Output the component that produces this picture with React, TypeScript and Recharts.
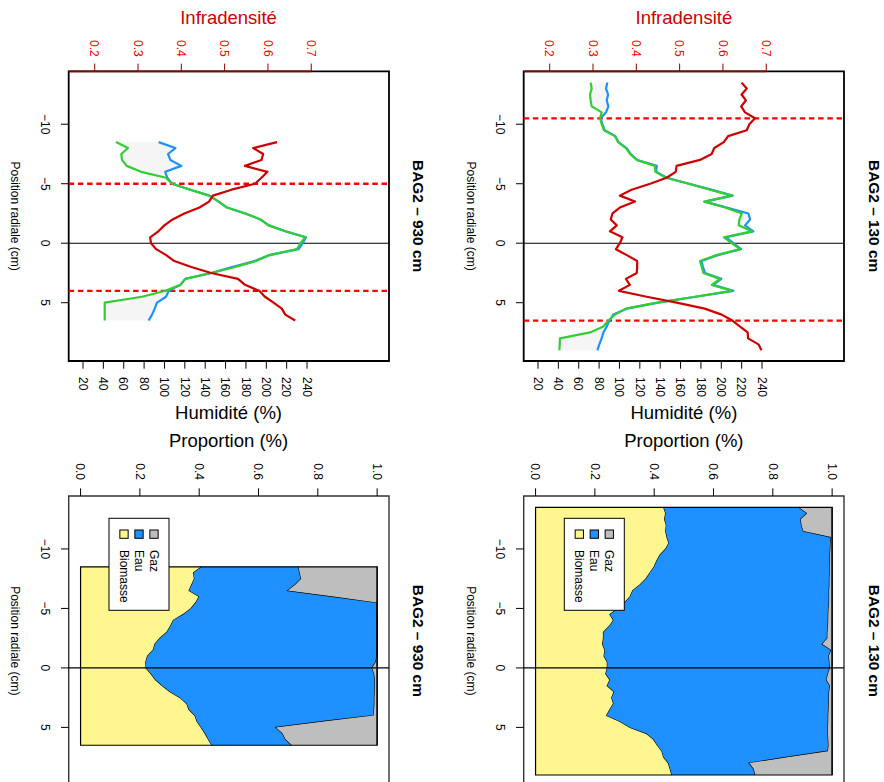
import React from "react";
import {
  ComposedChart,
  Line,
  Area,
  XAxis,
  YAxis,
  ReferenceLine,
  ReferenceArea,
} from "recharts";

// radial positions (cm)
const POS_130 = [
  -13.5, -13, -12.5, -12, -11.5, -11, -10.5, -10, -9.5, -9, -8.5, -8, -7.5, -7, -6.5, -6,
  -5.5, -5, -4.5, -4, -3.5, -3, -2.5, -2, -1.5, -1, -0.5, 0, 0.5, 1, 1.5, 2, 2.5, 3, 3.5, 4,
  4.5, 5, 5.5, 6, 6.5, 7, 7.5, 8, 8.5, 9,
];
const POS_930 = [
  -8.5, -8, -7.5, -7, -6.5, -6, -5.5, -5, -4.5, -4, -3.5, -3, -2.5, -2, -1.5, -1, -0.5, 0,
  0.5, 1, 1.5, 2, 2.5, 3, 3.5, 4, 4.5, 5, 5.5, 6, 6.5,
];

// humidity (%) - blue / green curves
const HUM_BLUE_130 = [
  88.1, 86.8, 88.8, 87.5, 89.1, 86.8, 81.6, 83.2, 85.5, 96.0, 99.0, 107.0, 111.0, 117.5, 136.6,
  136.0, 146.5, 168.5, 190.0, 211.2, 184.0, 205.3, 226.6, 228.3, 223.3, 231.5, 204.7, 211.8,
  219.5, 196.5, 180.5, 182.0, 184.0, 200.0, 192.0, 211.8, 175.0, 138.0, 107.0, 94.0, 90.1,
  87.5, 84.2, 82.5, 80.2, 78.3,
];
const HUM_GREEN_130 = [
  71.7, 72.7, 71.1, 71.7, 72.7, 82.5, 80.9, 82.5, 84.8, 95.6, 98.6, 106.4, 110.4, 116.9, 134.9,
  135.3, 145.7, 167.7, 189.0, 210.2, 183.1, 203.7, 220.1, 217.8, 217.1, 229.9, 202.7, 210.2,
  218.4, 195.5, 179.1, 180.8, 182.4, 198.8, 190.6, 210.2, 174.2, 137.2, 106.4, 95.6, 89.1,
  84.2, 71.1, 41.6, 41.3, 41.0,
];
const HUM_BLUE_930 = [
  94.3, 110.7, 103.5, 105.8, 116.6, 100.8, 102.8, 107.4, 125.4, 144.1, 153.2, 161.4, 179.4,
  194.2, 202.4, 218.8, 239.0, 235.7, 231.8, 203.0, 188.6, 166.3, 146.0, 120.5, 115.6, 104.2,
  101.5, 92.7, 90.4, 87.8, 84.5,
];
const HUM_GREEN_930 = [
  52.4, 64.2, 57.6, 58.3, 62.9, 77.0, 101.5, 107.4, 125.4, 144.1, 153.2, 161.4, 179.4, 194.2,
  202.4, 218.8, 238.4, 233.5, 230.2, 203.0, 189.9, 169.6, 146.0, 120.5, 115.6, 100.9, 77.9,
  41.3, 41.3, 41.3, 41.3,
];

// infradensity
const INFRA_130 = [
  0.643, 0.655, 0.643, 0.653, 0.642, 0.651, 0.674, 0.661, 0.655, 0.612, 0.602, 0.58, 0.574,
  0.547, 0.493, 0.491, 0.47, 0.432, 0.389, 0.362, 0.397, 0.362, 0.345, 0.341, 0.355, 0.339,
  0.368, 0.362, 0.353, 0.378, 0.402, 0.402, 0.401, 0.376, 0.385, 0.36, 0.424, 0.493, 0.558,
  0.597, 0.622, 0.639, 0.657, 0.658, 0.682, 0.689,
];
const INFRA_930 = [
  0.621, 0.566, 0.589, 0.585, 0.547, 0.599, 0.585, 0.57, 0.516, 0.473, 0.464, 0.442, 0.407,
  0.38, 0.361, 0.347, 0.328, 0.33, 0.342, 0.365, 0.384, 0.423, 0.469, 0.531, 0.547, 0.58,
  0.593, 0.613, 0.632, 0.64, 0.663,
];

// proportions (biomasse / eau / gaz)
const BIO_130 = [
  0.432, 0.439, 0.435, 0.441, 0.439, 0.443, 0.45, 0.439, 0.42, 0.409, 0.4, 0.386, 0.373, 0.353,
  0.328, 0.319, 0.302, 0.279, 0.251, 0.263, 0.249, 0.229, 0.229, 0.226, 0.234, 0.231, 0.242,
  0.242, 0.237, 0.251, 0.242, 0.265, 0.257, 0.263, 0.251, 0.24, 0.285, 0.319, 0.373, 0.398,
  0.411, 0.426, 0.432, 0.448, 0.454, 0.46,
];
const EAU_130 = [
  0.456, 0.477, 0.459, 0.456, 0.464, 0.554, 0.545, 0.555, 0.573, 0.584, 0.592, 0.606, 0.618,
  0.638, 0.662, 0.671, 0.688, 0.709, 0.736, 0.724, 0.737, 0.755, 0.755, 0.741, 0.763, 0.758,
  0.749, 0.751, 0.749, 0.73, 0.751, 0.725, 0.732, 0.726, 0.737, 0.747, 0.702, 0.667, 0.613,
  0.589, 0.577, 0.56, 0.418, 0.273, 0.282, 0.281,
];
const GAZ_130 = [
  0.112, 0.084, 0.106, 0.103, 0.097, 0.003, 0.005, 0.006, 0.007, 0.007, 0.008, 0.008, 0.009,
  0.009, 0.01, 0.01, 0.01, 0.012, 0.013, 0.013, 0.014, 0.016, 0.016, 0.033, 0.003, 0.011,
  0.009, 0.007, 0.014, 0.019, 0.007, 0.01, 0.011, 0.011, 0.012, 0.013, 0.013, 0.014, 0.014,
  0.013, 0.012, 0.014, 0.15, 0.279, 0.264, 0.259,
];
const BIO_930 = [
  0.409, 0.381, 0.384, 0.375, 0.366, 0.4, 0.389, 0.373, 0.347, 0.313, 0.303, 0.291, 0.268,
  0.251, 0.245, 0.226, 0.22, 0.221, 0.238, 0.253, 0.276, 0.302, 0.336, 0.358, 0.366, 0.386,
  0.393, 0.407, 0.42, 0.431, 0.443,
];
const EAU_930 = [
  0.326, 0.358, 0.36, 0.349, 0.333, 0.454, 0.61, 0.625, 0.652, 0.687, 0.697, 0.709, 0.732,
  0.749, 0.755, 0.773, 0.776, 0.762, 0.752, 0.74, 0.717, 0.69, 0.655, 0.633, 0.624, 0.602,
  0.427, 0.252, 0.261, 0.26, 0.27,
];
const GAZ_930 = [
  0.265, 0.261, 0.256, 0.276, 0.301, 0.146, 0.001, 0.002, 0.001, 0, 0, 0, 0, 0, 0, 0.001,
  0.004, 0.017, 0.01, 0.007, 0.007, 0.008, 0.009, 0.009, 0.01, 0.012, 0.18, 0.341, 0.319,
  0.309, 0.287,
];

// limits of the wood zone (red dashed)
const DASH_130 = [-10.5, 6.5];
const DASH_930 = [-5, 4];

const POS_TICKS = [-10, -5, 0, 5];
const INFRA_TICKS = [0.2, 0.3, 0.4, 0.5, 0.6, 0.7];
const HUM_TICKS = [20, 40, 60, 80, 100, 120, 140, 160, 180, 200, 220, 240];
const PROP_TICKS = [0, 0.2, 0.4, 0.6, 0.8, 1];

const LEGEND_NAMES = ["Gaz", "Eau", "Biomasse"];
const LEGEND_COLORS = ["#BEBEBE", "#1E90FF", "#FFF68F"];

const X_DOMAIN: [number, number] = [-14.45, 9.9];
const INFRA_DOMAIN: [number, number] = [0.14, 0.8795];
const HUM_DOMAIN: [number, number] = [5.95, 320.5];
const PROP_DOMAIN: [number, number] = [-0.04, 1.04];

const FONT = '"Liberation Sans", Arial, Helvetica, sans-serif';

const fmtPos = (v: number) => String(v).replace("-", "\u2212");
const fmt1 = (v: number) => v.toFixed(1);

function posAxis() {
  return (
    <XAxis
      dataKey="pos"
      type="number"
      domain={X_DOMAIN}
      ticks={POS_TICKS}
      interval={0}
      allowDataOverflow
      axisLine={false}
      tickLine={{ stroke: "#000" }}
      tickSize={7.7}
      tickMargin={11.2}
      height={81.7}
      tick={{ fill: "#000", fontSize: 12 }}
      tickFormatter={fmtPos}
    />
  );
}

function HumidityPanel({ pos, blue, green, infra, dashes, left, top }: any) {
  const data = pos.map((p: number, i: number) => ({
    pos: p,
    blue: blue[i],
    green: green[i],
    infra: infra[i],
    band: [green[i], blue[i]],
  }));

  return (
    <div style={{ position: "absolute", left, top }}>
      <ComposedChart width={440} height={442} data={data} margin={{ top: 40, right: 0, bottom: 0, left: 0 }}>
        {posAxis()}
        <YAxis
          yAxisId="infra"
          orientation="left"
          type="number"
          domain={INFRA_DOMAIN}
          ticks={INFRA_TICKS}
          interval={0}
          allowDataOverflow
          width={71.3}
          axisLine={false}
          tickLine={{ stroke: "#8B0000" }}
          tickSize={7.7}
          tickMargin={6.9}
          tick={{ fill: "#FF0000", fontSize: 12 }}
          tickFormatter={fmt1}
        />
        <YAxis
          yAxisId="hum"
          orientation="right"
          type="number"
          domain={HUM_DOMAIN}
          ticks={HUM_TICKS}
          interval={0}
          allowDataOverflow
          width={79}
          axisLine={false}
          tickLine={{ stroke: "#000" }}
          tickSize={7.7}
          tickMargin={8.3}
          tick={{ fill: "#000", fontSize: 12 }}
        />
        <Area yAxisId="hum" type="linear" dataKey="band" fill="#F5F5F5" fillOpacity={1} stroke="none" isAnimationActive={false} />
        <ReferenceLine yAxisId="hum" x={0} stroke="#000" strokeWidth={1.1} />
        {dashes.map((d: number) => (
          <ReferenceLine key={d} yAxisId="hum" x={d} stroke="#FF0000" strokeWidth={2.3} strokeDasharray="5.5 3.7" />
        ))}
        <Line yAxisId="hum" type="linear" dataKey="blue" stroke="#1E90FF" strokeWidth={2.2} strokeLinejoin="round" dot={false} activeDot={false} isAnimationActive={false} />
        <Line yAxisId="hum" type="linear" dataKey="green" stroke="#32CD32" strokeWidth={2.2} strokeLinejoin="round" dot={false} activeDot={false} isAnimationActive={false} />
        <Line yAxisId="infra" type="linear" dataKey="infra" stroke="#CD0000" strokeWidth={2.2} strokeLinejoin="round" dot={false} activeDot={false} isAnimationActive={false} />
        <ReferenceArea
          yAxisId="hum"
          x1={X_DOMAIN[0]}
          x2={X_DOMAIN[1]}
          y1={HUM_DOMAIN[0]}
          y2={HUM_DOMAIN[1]}
          fill="none"
          stroke="#000"
          strokeWidth={1.8}
          ifOverflow="visible"
        />
        <ReferenceLine
          yAxisId="infra"
          segment={[
            { x: X_DOMAIN[0], y: INFRA_DOMAIN[0] },
            { x: X_DOMAIN[0], y: INFRA_TICKS[INFRA_TICKS.length - 1] },
          ]}
          stroke="#8B0000"
          strokeWidth={1.8}
          ifOverflow="visible"
        />
      </ComposedChart>
    </div>
  );
}

function ProportionPanel({ pos, bio, eau, gaz, left, top }: any) {
  const data = pos.map((p: number, i: number) => ({ pos: p, bio: bio[i], eau: eau[i], gaz: gaz[i] }));
  const first = pos[0];
  const last = pos[pos.length - 1];

  return (
    <div style={{ position: "absolute", left, top }}>
      <ComposedChart width={380} height={442} data={data} margin={{ top: 40, right: 14.3, bottom: 0, left: 0 }}>
        {posAxis()}
        <YAxis
          yAxisId="p"
          orientation="left"
          type="number"
          domain={PROP_DOMAIN}
          ticks={PROP_TICKS}
          interval={0}
          allowDataOverflow
          width={76}
          axisLine={false}
          tickLine={{ stroke: "#000" }}
          tickSize={7.7}
          tickMargin={8.3}
          tick={{ fill: "#000", fontSize: 12 }}
          tickFormatter={fmt1}
        />
        <Area yAxisId="p" stackId="s" type="linear" dataKey="bio" fill="#FFF68F" fillOpacity={1} stroke="#000" strokeWidth={1.2} isAnimationActive={false} activeDot={false} />
        <Area yAxisId="p" stackId="s" type="linear" dataKey="eau" fill="#1E90FF" fillOpacity={1} stroke="#000" strokeWidth={1.2} isAnimationActive={false} activeDot={false} />
        <Area yAxisId="p" stackId="s" type="linear" dataKey="gaz" fill="#BEBEBE" fillOpacity={1} stroke="#000" strokeWidth={1.2} isAnimationActive={false} activeDot={false} />
        <ReferenceArea yAxisId="p" x1={first} x2={last} y1={0} y2={1} fill="none" stroke="#000" strokeWidth={1.2} ifOverflow="visible" />
        <ReferenceLine yAxisId="p" x={0} stroke="#000" strokeWidth={1.1} />
        <ReferenceArea
          yAxisId="p"
          x1={X_DOMAIN[0]}
          x2={X_DOMAIN[1]}
          y1={PROP_DOMAIN[0]}
          y2={PROP_DOMAIN[1]}
          fill="none"
          stroke="#333"
          strokeWidth={1.4}
          ifOverflow="visible"
        />
      </ComposedChart>
    </div>
  );
}

function Legend({ x, y }: { x: number; y: number }) {
  return (
    <g>
      <rect x={x} y={y} width={92} height={60} fill="#fff" stroke="#000" strokeWidth={1} />
      {LEGEND_NAMES.map((name, i) => {
        const cy = y + 15 + i * 15;
        return (
          <g key={name}>
            <rect x={x + 11.7} y={cy - 4.15} width={8.3} height={8.3} fill={LEGEND_COLORS[i]} stroke="#000" strokeWidth={1} />
            <text x={x + 31.7} y={cy + 4.3} fontSize={12} fill="#000">
              {name}
            </text>
          </g>
        );
      })}
    </g>
  );
}

function Labels({ dy, depth }: { dy: number; depth: string }) {
  const cA = 216.15;
  const cB = 640.85;
  const mid = 200.15 + dy;
  const title = `BAG2 \u2013 ${depth}`;
  return (
    <g>
      <text x={cA} y={15.5 + dy} textAnchor="middle" fontSize={15.4} fontWeight="bold" fill="#000">{title}</text>
      <text x={cB} y={15.5 + dy} textAnchor="middle" fontSize={15.4} fontWeight="bold" fill="#000">{title}</text>
      <text x={cA} y={417.5 + dy} textAnchor="middle" fontSize={12} fill="#000">Position radiale (cm)</text>
      <text x={cB} y={417.5 + dy} textAnchor="middle" fontSize={12} fill="#000">Position radiale (cm)</text>
      <text transform={`translate(24, ${mid}) rotate(-90)`} textAnchor="middle" fontSize={18.5} fill="#CD0000">Infradensité</text>
      <text transform={`translate(418.5, ${mid}) rotate(-90)`} textAnchor="middle" fontSize={18.5} fill="#000">Humidité (%)</text>
      <text transform={`translate(447, ${mid}) rotate(-90)`} textAnchor="middle" fontSize={18.5} fill="#000">Proportion (%)</text>
      <Legend x={518.3} y={259.7 + dy} />
    </g>
  );
}

export default function App() {
  const rowOffset = 455.3;
  return (
    <div
      style={{
        position: "absolute",
        left: 0,
        top: 0,
        width: 884,
        height: 782,
        overflow: "hidden",
        background: "#fff",
        fontFamily: FONT,
      }}
    >
      {/* the R figure is drawn upright, then turned a quarter clockwise */}
      <div
        style={{
          position: "absolute",
          left: 0,
          top: 0,
          width: 800,
          height: 884,
          transformOrigin: "0 0",
          transform: "translate(884px, 0px) rotate(90deg)",
        }}
      >
        <HumidityPanel pos={POS_130} blue={HUM_BLUE_130} green={HUM_GREEN_130} infra={INFRA_130} dashes={DASH_130} left={0} top={0} />
        <ProportionPanel pos={POS_130} bio={BIO_130} eau={EAU_130} gaz={GAZ_130} left={420} top={0} />
        <HumidityPanel pos={POS_930} blue={HUM_BLUE_930} green={HUM_GREEN_930} infra={INFRA_930} dashes={DASH_930} left={0} top={rowOffset} />
        <ProportionPanel pos={POS_930} bio={BIO_930} eau={EAU_930} gaz={GAZ_930} left={420} top={rowOffset} />
        <svg
          width={800}
          height={884}
          style={{ position: "absolute", left: 0, top: 0, pointerEvents: "none", fontFamily: FONT }}
        >
          <Labels dy={0} depth="130 cm" />
          <Labels dy={rowOffset} depth="930 cm" />
        </svg>
      </div>
    </div>
  );
}
